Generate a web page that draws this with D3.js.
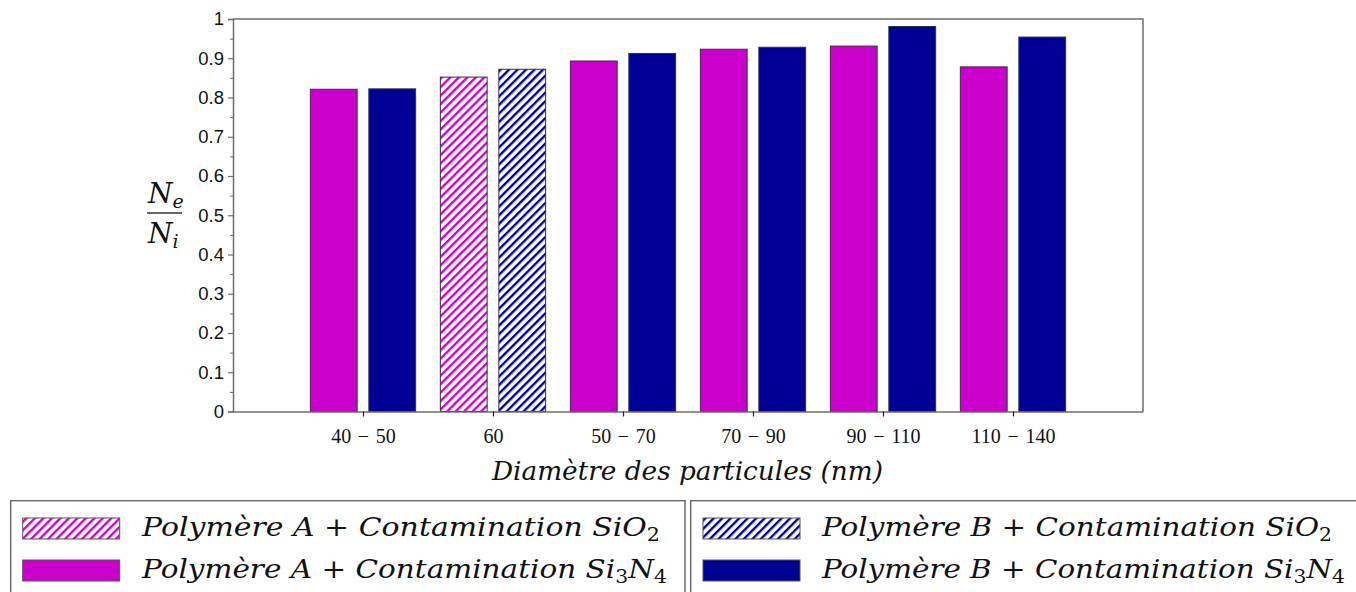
<!DOCTYPE html>
<html>
<head>
<meta charset="utf-8">
<script src="https://cdn.jsdelivr.net/npm/d3@7"></script>
<style>
  html, body { margin: 0; padding: 0; background: #fff; }
  svg { display: block; }
</style>
</head>
<body>
<div id="chart"></div>
<script>
// ── Données ─────────────────────────────────────────────
const categories = ['40\u2004−\u200450', '60', '50\u2004−\u200470', '70\u2004−\u200490', '90\u2004−\u2004110', '110\u2004−\u2004140'];
const polymereA  = [0.821, 0.852, 0.893, 0.923, 0.931, 0.878];
const polymereB  = [0.822, 0.872, 0.912, 0.928, 0.981, 0.954];
// la catégorie "60" correspond à la contamination SiO2 (barres hachurées)
const hatched    = [false, true, false, false, false, false];
const yTicks     = [0, 0.1, 0.2, 0.3, 0.4, 0.5, 0.6, 0.7, 0.8, 0.9, 1];

const W = 1356, H = 592;
const magenta = '#cc00cc', navy = '#000094';
const frame = '#6e6e6e';
const serif = '"Liberation Serif", "Times New Roman", serif';
const mathSerif = '"DejaVu Serif", "Liberation Serif", serif';
const sans  = '"Liberation Sans", Arial, sans-serif';

const svg = d3.select('#chart').append('svg').attr('width', W).attr('height', H);

// Motifs hachurés
const defs = svg.append('defs');
[['hatchA', magenta], ['hatchB', navy]].forEach(([id, c]) => {
    const p = defs.append('pattern').attr('id', id)
        .attr('patternUnits', 'userSpaceOnUse')
        .attr('width', 6).attr('height', 6)
        .attr('patternTransform', 'rotate(45)');
    p.append('rect').attr('width', 6).attr('height', 6).attr('fill', '#fff');
    p.append('rect').attr('x', 0).attr('width', 2.4).attr('height', 6).attr('fill', c);
});

// ── Échelles ────────────────────────────────────────────
const plot = { left: 233, right: 1143, top: 19, bottom: 411.5 };
const x = d3.scaleLinear().domain([0, categories.length + 1]).range([plot.left, plot.right]);
const y = d3.scaleLinear().domain([0, 1]).range([plot.bottom, plot.top]);
const barW = x(0.36) - x(0);
const off  = x(0.225) - x(0);

const g = svg.append('g');

// Barres
const drawBars = (vals, color, pat, sign) => {
    g.append('g').selectAll('rect').data(vals).join('rect')
        .attr('x', (d, i) => x(i + 1) + sign * off - barW / 2)
        .attr('y', d => y(d))
        .attr('width', barW)
        .attr('height', d => y(0) - y(d))
        .attr('fill', (d, i) => hatched[i] ? `url(#${pat})` : color)
        .attr('stroke', '#333').attr('stroke-width', 1);
};
drawBars(polymereA, magenta, 'hatchA', -1);
drawBars(polymereB, navy, 'hatchB', 1);

// Cadre (haut + droite)
g.append('path')
    .attr('d', `M${plot.left},${plot.top}H${plot.right}V${plot.bottom}`)
    .attr('fill', 'none').attr('stroke', frame).attr('stroke-width', 1.5);

// ── Axe Y ───────────────────────────────────────────────
const yAxis = g.append('g').attr('transform', `translate(${plot.left},0)`)
    .call(d3.axisLeft(y).tickValues(yTicks).tickSize(5).tickPadding(4)
        .tickFormat(d => d === 0 ? '0' : d === 1 ? '1' : d3.format('.1f')(d)));
yAxis.select('.domain').attr('stroke', frame).attr('stroke-width', 1.5);
yAxis.selectAll('.tick line').attr('stroke', frame).attr('stroke-width', 1.2);
yAxis.selectAll('.tick text').attr('font-family', sans).attr('font-size', 18.5).attr('fill', '#111');
// graduations mineures
g.append('g').attr('transform', `translate(${plot.left},0)`)
    .call(d3.axisLeft(y).tickValues(d3.range(0.05, 1, 0.1)).tickSize(3).tickFormat(''))
    .call(a => a.select('.domain').remove())
    .selectAll('.tick line').attr('stroke', frame).attr('stroke-width', 1);

// ── Axe X ───────────────────────────────────────────────
const xAxis = g.append('g').attr('transform', `translate(0,${plot.bottom})`)
    .call(d3.axisBottom(x).tickValues(d3.range(1, categories.length + 1))
        .tickSize(5).tickPadding(12).tickSizeOuter(0)
        .tickFormat(d => categories[d - 1]));
xAxis.select('.domain').attr('stroke', frame).attr('stroke-width', 1.5);
xAxis.selectAll('.tick line').attr('stroke', '#222').attr('stroke-width', 1.2);
xAxis.selectAll('.tick text').attr('font-family', serif).attr('font-size', 20).attr('fill', '#111');

// Titre axe X
svg.append('text')
    .attr('x', 492).attr('y', 480)
    .attr('font-family', mathSerif).attr('font-style', 'italic')
    .attr('font-size', 26).attr('fill', '#111')
    .attr('textLength', 391).attr('lengthAdjust', 'spacingAndGlyphs')
    .text('Diamètre des particules (nm)');

// Titre axe Y : fraction Ne / Ni
const fy = svg.append('g').attr('font-family', mathSerif).attr('font-style', 'italic')
    .attr('fill', '#111').attr('font-size', 28);
const fracNe = fy.append('text').attr('x', 148).attr('y', 203);
fracNe.append('tspan').text('N');
fracNe.append('tspan').attr('font-size', 19).attr('dy', 5).text('e');
fy.append('line').attr('x1', 147).attr('x2', 182).attr('y1', 213).attr('y2', 213)
    .attr('stroke', '#333').attr('stroke-width', 1.5);
const fracNi = fy.append('text').attr('x', 148).attr('y', 243);
fracNi.append('tspan').text('N');
fracNi.append('tspan').attr('font-size', 19).attr('dy', 5).text('i');

// ── Légende ─────────────────────────────────────────────
const legendGroups = [
    { left: 10.7, right: 685, swX: 22.7, txtX: 142, poly: 'A', color: magenta, pat: 'hatchA', len: [518, 525] },
    { left: 690.7, right: 1362, swX: 703, txtX: 822, poly: 'B', color: navy, pat: 'hatchB', len: [510, 523] }
];
const legendTop = 500.7;
legendGroups.forEach(lg => {
    const lgG = svg.append('g');
    lgG.append('rect').attr('x', lg.left).attr('y', legendTop)
        .attr('width', lg.right - lg.left).attr('height', 120)
        .attr('fill', '#fff').attr('stroke', frame).attr('stroke-width', 1.5);
    [
        { y: 518, fill: `url(#${lg.pat})`, sio2: true },
        { y: 560, fill: lg.color, sio2: false }
    ].forEach((row, ri) => {
        lgG.append('rect').attr('x', lg.swX).attr('y', row.y)
            .attr('width', 97).attr('height', 21)
            .attr('fill', row.fill).attr('stroke', '#555').attr('stroke-width', 1);
        const t = lgG.append('text').attr('x', lg.txtX).attr('y', row.y + 18)
            .attr('font-family', mathSerif).attr('font-style', 'italic')
            .attr('font-size', 26).attr('fill', '#111')
            .attr('textLength', lg.len[ri]).attr('lengthAdjust', 'spacingAndGlyphs');
        t.append('tspan').text(`Polymère ${lg.poly} `);
        t.append('tspan').attr('font-style', 'normal').text('+');
        t.append('tspan').text(' Contamination ');
        if (row.sio2) {
            t.append('tspan').text('SiO');
            t.append('tspan').attr('font-style', 'normal').attr('font-size', 18).attr('dy', 5).text('2');
        } else {
            t.append('tspan').text('Si');
            t.append('tspan').attr('font-style', 'normal').attr('font-size', 18).attr('dy', 5).text('3');
            t.append('tspan').attr('dy', -5).text('N');
            t.append('tspan').attr('font-style', 'normal').attr('font-size', 18).attr('dy', 5).text('4');
        }
    });
});
</script>
</body>
</html>
